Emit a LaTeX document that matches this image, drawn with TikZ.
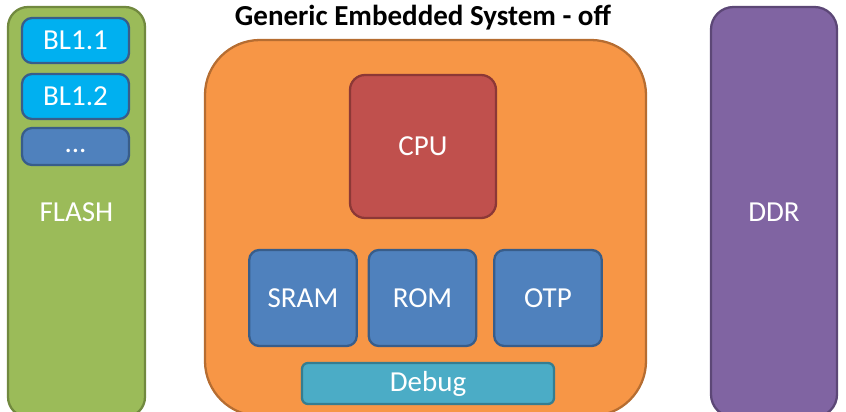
\documentclass[tikz,border=0pt]{standalone}
\usepackage{fontspec}
\setmainfont{Carlito}
\usepackage{tikz}
\usetikzlibrary{positioning}

\definecolor{flashgreen}{HTML}{9BBB59}
\definecolor{flashedge}{HTML}{71893F}
\definecolor{socorange}{HTML}{F79646}
\definecolor{socedge}{HTML}{B66D31}
\definecolor{cpured}{HTML}{C0504D}
\definecolor{cpuedge}{HTML}{8C3836}
\definecolor{memblue}{HTML}{4F81BD}
\definecolor{memedge}{HTML}{385D8A}
\definecolor{blcyan}{HTML}{00B0F0}
\definecolor{dbgteal}{HTML}{4BACC6}
\definecolor{dbgedge}{HTML}{357D91}
\definecolor{ddrpurple}{HTML}{8064A2}
\definecolor{ddredge}{HTML}{5C4776}

\begin{document}
\begin{tikzpicture}[
    part/.style={rectangle, draw, line width=1.3pt, rounded corners=0.2cm, text=white, font=\fontsize{16.5}{18}\selectfont},
    mem/.style={part, fill=memblue, draw=memedge, minimum width=2.15cm, minimum height=1.92cm},
    bl/.style={part, fill=blcyan, draw=memedge, minimum width=2.14cm, minimum height=0.9cm},
]
    \useasboundingbox (0,0) rectangle (16.92,8.22);
    % external storage and memory
    \node[part, fill=flashgreen, draw=flashedge, rounded corners=0.4cm, minimum width=2.74cm, minimum height=8.2cm] (flash) at (1.53,3.98) {FLASH};
    \node[bl] (bl1) at (1.51,7.41) {BL1.1};
    \node[bl] (bl2) at (1.51,6.29) {BL1.2};
    \node[part, fill=memblue, draw=memedge, inner ysep=0pt, minimum width=2.14cm, minimum height=0.74cm] (blmore) at (1.51,5.29) {\strut...};
    \node[part, fill=ddrpurple, draw=ddredge, rounded corners=0.45cm, minimum width=2.52cm, minimum height=8.2cm] (ddr) at (15.48,3.98) {DDR};
    % the SoC itself
    \node[font=\fontsize{16.5}{18}\selectfont\bfseries] (title) at (8.46,7.86) {Generic Embedded System - off};
    \node[part, fill=socorange, draw=socedge, rounded corners=1.1cm, minimum width=8.82cm, minimum height=7.52cm] (soc) at (8.51,3.66) {};
    \node[part, fill=cpured, draw=cpuedge, rounded corners=0.3cm, minimum width=2.92cm, minimum height=2.86cm] (cpu) at (8.46,5.29) {CPU};
    \node[mem] (sram) at (6.06,2.26) {SRAM};
    \node[mem] (rom) at (8.45,2.26) {ROM};
    \node[mem] (otp) at (10.96,2.26) {OTP};
    \node[part, fill=dbgteal, draw=dbgedge, rounded corners=0.12cm, minimum width=5.04cm, minimum height=0.82cm] (debug) at (8.56,0.55) {Debug};
\end{tikzpicture}
\end{document}
